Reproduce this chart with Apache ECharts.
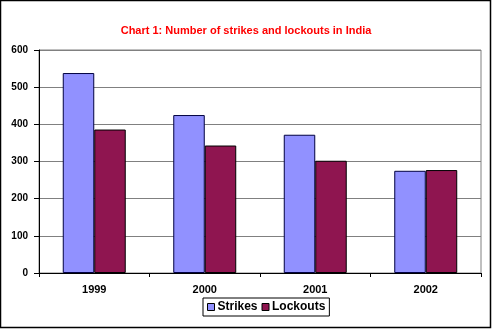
<!DOCTYPE html>
<html>
<head>
<meta charset="utf-8">
<script src="https://cdn.jsdelivr.net/npm/echarts@6/dist/echarts.min.js"></script>
<style>
  html, body { margin: 0; padding: 0; background: #fff; }
  #chart { width: 492px; height: 329px; }
</style>
</head>
<body>
<div id="chart"></div>
<script>
// Strikes and lockouts in India, 1999-2002
const years = ['1999', '2000', '2001', '2002'];
const strikes = [538, 425, 372, 275];
const lockouts = [386, 343, 302, 277];
const yTicks = [0, 100, 200, 300, 400, 500, 600];

const chart = echarts.init(document.getElementById('chart'), null, { renderer: 'canvas' });

const font = 'Arial, "Liberation Sans", sans-serif';

chart.setOption({
  animation: false,
  backgroundColor: '#ffffff',
  title: {
    text: 'Chart 1: Number of strikes and lockouts in India',
    left: 'center',
    top: 20,
    textStyle: { color: '#ff0000', fontSize: 11, fontWeight: 'bold', fontFamily: font }
  },
  graphic: [{
    type: 'rect',
    shape: { x: 0.5, y: 0.5, width: 490, height: 327 },
    style: { fill: 'none', stroke: '#000', lineWidth: 1.5 },
    silent: true
  }],
  legend: {
    data: ['Strikes', 'Lockouts'],
    top: 298,
    left: 203,
    itemWidth: 7,
    itemHeight: 7,
    itemGap: 4,
    padding: [3, 4, 3, 4],
    borderColor: '#000',
    borderWidth: 1,
    icon: 'rect',
    textStyle: { fontSize: 12, fontWeight: 'bold', fontFamily: font, color: '#000', padding: [0, 0, 0, -2] },
    itemStyle: { borderColor: '#000', borderWidth: 1 }
  },
  grid: {
    left: 39, right: 11, top: 50, bottom: 56,
    show: true, borderColor: '#808080', borderWidth: 1
  },
  xAxis: {
    type: 'category',
    data: years,
    axisLine: { lineStyle: { color: '#000', width: 1 } },
    axisTick: { show: true, length: 4, lineStyle: { color: '#000' } },
    axisLabel: { fontSize: 11, fontWeight: 'bold', fontFamily: font, color: '#000', margin: 11 }
  },
  yAxis: {
    type: 'value',
    min: yTicks[0],
    max: yTicks[yTicks.length - 1],
    interval: 100,
    axisLine: { show: true, lineStyle: { color: '#000', width: 1 } },
    axisTick: { show: true, length: 5, lineStyle: { color: '#000' } },
    axisLabel: { fontSize: 10, fontWeight: 'bold', fontFamily: font, color: '#000', margin: 11 },
    splitLine: { lineStyle: { color: '#808080', width: 1 } }
  },
  series: [
    {
      name: 'Strikes',
      type: 'bar',
      data: strikes,
      barGap: '0%',
      barCategoryGap: '43%',
      itemStyle: { color: '#9191ff', borderColor: '#000040', borderWidth: 1 }
    },
    {
      name: 'Lockouts',
      type: 'bar',
      data: lockouts,
      itemStyle: { color: '#8f1550', borderColor: '#000', borderWidth: 1 }
    }
  ]
});
</script>
</body>
</html>
